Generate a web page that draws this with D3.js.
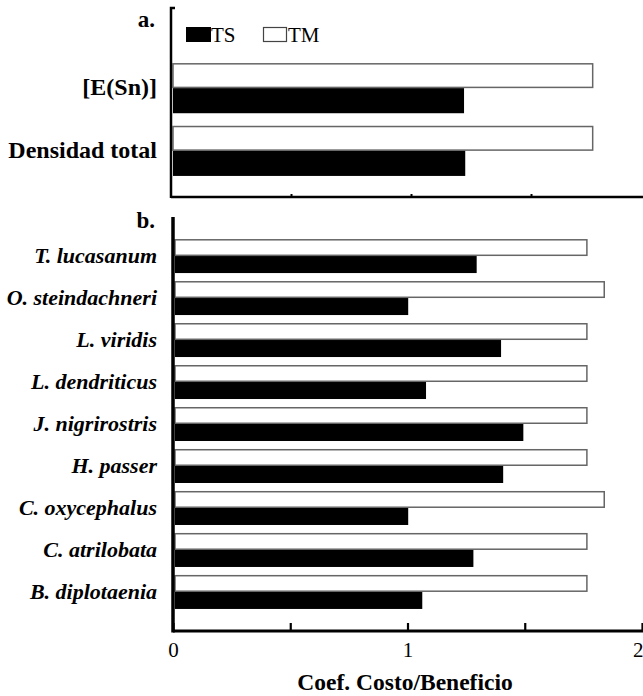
<!DOCTYPE html>
<html lang="es">
<head>
    <meta charset="UTF-8">
    <script src="https://d3js.org/d3.v7.min.js"></script>
    <title>Coef. Costo/Beneficio</title>
    <style>
        body { margin: 0; background: #fff; }
        svg { display: block; }
        svg text { font-family: "Liberation Serif", "Tinos", "DejaVu Serif", serif; }
    </style>
</head>
<body>
    <div id="chart"></div>
    <script>
        // Panel a: indices
        const indexCats = ["[E(Sn)]", "Densidad total"];
        const indexTM = [1.757, 1.757];
        const indexTS = [1.221, 1.226];

        // Panel b: species
        const species = ["T. lucasanum", "O. steindachneri", "L. viridis", "L. dendriticus",
            "J. nigrirostris", "H. passer", "C. oxycephalus", "C. atrilobata", "B. diplotaenia"];
        const speciesTM = [1.765, 1.839, 1.765, 1.765, 1.765, 1.765, 1.839, 1.765, 1.765];
        const speciesTS = [1.295, 1.003, 1.399, 1.079, 1.494, 1.408, 1.003, 1.281, 1.063];

        const groups = ["TM", "TS"];
        const xTicks = [0.5, 1, 1.5, 2];
        const xLabels = [0, 1, 2];

        const W = 643, H = 696;
        const svg = d3.select("#chart").append("svg")
            .attr("width", W).attr("height", H);

        const fillFor = { TS: "#000", TM: "#fff" };

        function drawPanel(opts) {
            const { cats, tm, ts, x, yRange, pi, po, labelStyle } = opts;
            const rows = cats.map((c, i) => ({ cat: c, TM: tm[i], TS: ts[i] }));

            const y = d3.scaleBand().domain(cats).range(yRange)
                .paddingInner(pi).paddingOuter(po);
            const ySub = d3.scaleBand().domain(groups).range([0, y.bandwidth()]);

            const g = svg.append("g");

            const row = g.selectAll(".row").data(rows).enter().append("g")
                .attr("transform", d => `translate(0,${y(d.cat)})`);

            row.selectAll("rect")
                .data(d => groups.map(k => ({ key: k, value: d[k] })))
                .enter().append("rect")
                .attr("x", x(0) + 2)
                .attr("y", d => ySub(d.key) + (d.key === "TM" ? 0.75 : 0))
                .attr("width", d => x(d.value) - x(0) - 2)
                .attr("height", d => ySub.bandwidth() - (d.key === "TM" ? 1.5 : 0))
                .attr("fill", d => fillFor[d.key])
                .attr("stroke", d => d.key === "TM" ? "#666" : "none")
                .attr("stroke-width", 1.5);

            // category labels
            g.selectAll(".lab").data(rows).enter().append("text")
                .attr("x", 157)
                .attr("y", d => y(d.cat) + y.bandwidth() / 2)
                .attr("dy", "0.3em")
                .attr("text-anchor", "end")
                .style("font-size", labelStyle.size)
                .style("font-weight", "bold")
                .style("font-style", labelStyle.italic ? "italic" : "normal")
                .text(d => d.cat);
            return g;
        }

        // ---- Panel a ----
        const xa = d3.scaleLinear().domain([0, 2]).range([171, 651]);
        drawPanel({
            cats: indexCats, tm: indexTM, ts: indexTS, x: xa,
            yRange: [42, 197], pi: 0.2, po: 0.336,
            labelStyle: { size: "24px", italic: false }
        });

        // axis a
        svg.append("g")
            .attr("transform", "translate(0,197)")
            .call(d3.axisBottom(xa).tickValues([0.5, 1, 1.5]).tickSize(-3).tickSizeOuter(0).tickFormat(""))
            .call(g => g.select(".domain").attr("stroke-width", 2.5).attr("d", `M${xa(0)},0H${W}`))
            .call(g => g.selectAll(".tick line").attr("stroke-width", 2));
        svg.append("path")
            .attr("d", `M${xa(0) + 4},8H${xa(0)}V198`)
            .attr("fill", "none").attr("stroke", "#000").attr("stroke-width", 2.5);

        // legend
        const legend = svg.append("g");
        legend.append("rect").attr("x", 186).attr("y", 27).attr("width", 25).attr("height", 15)
            .attr("fill", "#000");
        legend.append("text").attr("x", 211).attr("y", 42).style("font-size", "21px").text("TS");
        legend.append("rect").attr("x", 263.5).attr("y", 27.5).attr("width", 23).attr("height", 14)
            .attr("fill", "#fff").attr("stroke", "#444").attr("stroke-width", 1.2);
        legend.append("text").attr("x", 288).attr("y", 42).style("font-size", "21px").text("TM");

        svg.append("text").attr("x", 155).attr("y", 27).attr("text-anchor", "end")
            .style("font-size", "23px").style("font-weight", "bold").text("a.");

        // ---- Panel b ----
        const xb = d3.scaleLinear().domain([0, 2]).range([173, 642]);
        drawPanel({
            cats: species, tm: speciesTM, ts: speciesTS, x: xb,
            yRange: [217, 631], pi: 0.19, po: 0.525,
            labelStyle: { size: "22px", italic: true }
        });

        svg.append("g")
            .attr("transform", "translate(0,631)")
            .call(d3.axisBottom(xb).tickValues([0].concat(xTicks)).tickSize(-8).tickSizeOuter(0)
                .tickPadding(11)
                .tickFormat(d => xLabels.includes(d) ? d : ""))
            .call(g => g.select(".domain").attr("stroke-width", 3).attr("d", `M${xb(0)},0H${W}`))
            .call(g => g.selectAll(".tick line").attr("stroke-width", 2.2))
            .call(g => g.selectAll(".tick text")
                .style("font-size", "21px").attr("fill", "#000")
                .attr("text-anchor", d => d === 2 ? "end" : "middle")
                .attr("x", d => d === 2 ? W - 642 : 0));
        svg.append("line")
            .attr("x1", xb(0)).attr("x2", xb(0)).attr("y1", 217).attr("y2", 632.5)
            .attr("stroke", "#000").attr("stroke-width", 3.5);

        svg.append("text").attr("x", 155).attr("y", 228).attr("text-anchor", "end")
            .style("font-size", "23px").style("font-weight", "bold").text("b.");

        // x-axis title
        svg.append("text").attr("x", 405).attr("y", 690).attr("text-anchor", "middle")
            .style("font-size", "23.5px").style("font-weight", "bold").text("Coef. Costo/Beneficio");
    </script>
</body>
</html>
